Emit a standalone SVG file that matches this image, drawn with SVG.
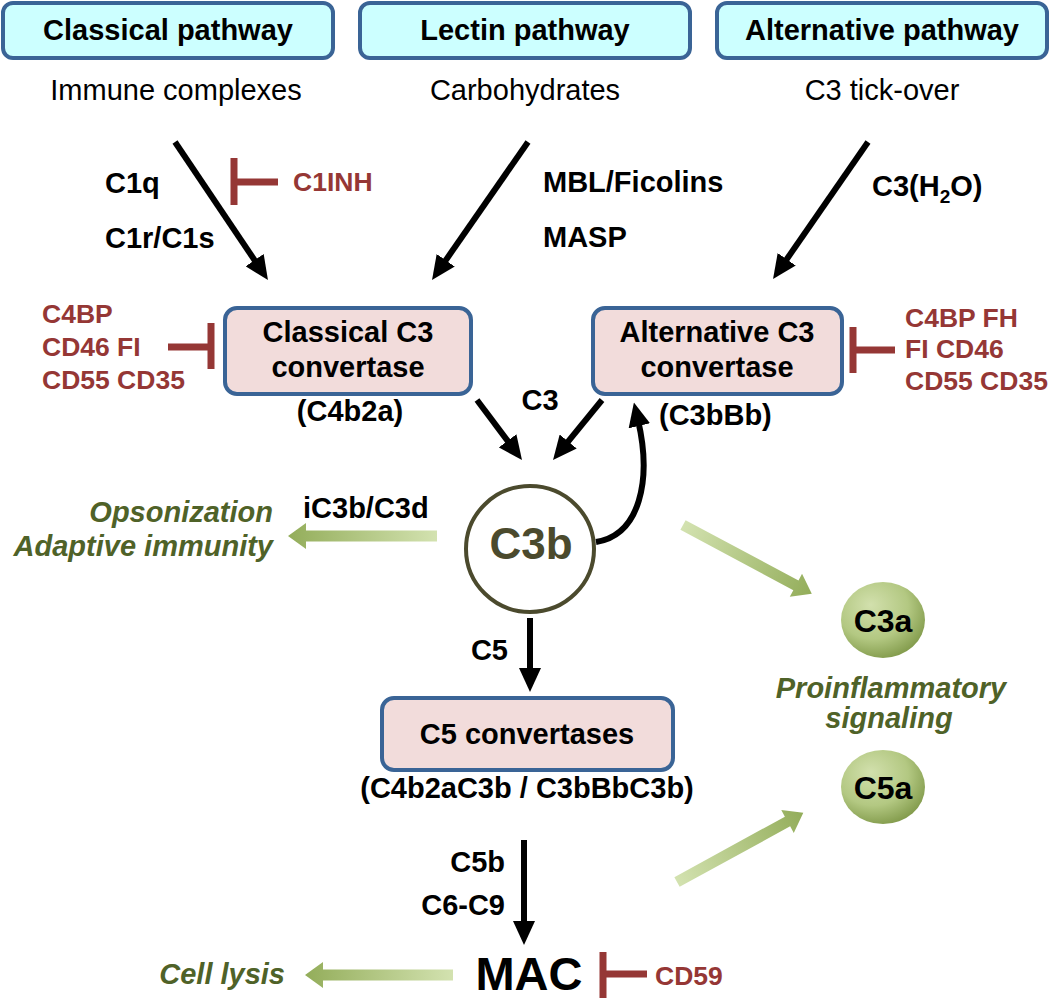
<svg xmlns="http://www.w3.org/2000/svg" width="1050" height="998" viewBox="0 0 1050 998">
<defs>
<style>
text{font-family:"Liberation Sans",Arial,sans-serif;}
.b{font-weight:bold;font-size:29px;fill:#000;}
.r{font-size:29px;fill:#000;}
.red{font-weight:bold;font-size:26.5px;fill:#953735;}
.grn{font-weight:bold;font-style:italic;font-size:29px;fill:#4f6228;}
.top{fill:#ccffff;stroke:#3a6496;stroke-width:4;}
.conv{fill:#f2dcdb;stroke:#3a6496;stroke-width:4;}
.blk{stroke:#000;stroke-width:6;fill:none;marker-end:url(#ah);}
.inh{stroke:#953735;stroke-width:7;fill:none;}
.c{text-anchor:middle;}
.e{text-anchor:end;}
</style>
<marker id="ah" markerUnits="userSpaceOnUse" viewBox="0 0 24 22" markerWidth="24" markerHeight="22" refX="6" refY="11" orient="auto">
<path d="M0,0 L24,11 L0,22 z" fill="#000"/>
</marker>
<linearGradient id="ga" x1="0" y1="0" x2="1" y2="0">
<stop offset="0" stop-color="#d3e2b0"/>
<stop offset="1" stop-color="#93ad5a"/>
</linearGradient>
<radialGradient id="gc" cx="0.4" cy="0.35" r="0.7" fx="0.35" fy="0.3">
<stop offset="0" stop-color="#d2e0ad"/>
<stop offset="0.6" stop-color="#b3c882"/>
<stop offset="1" stop-color="#7f9848"/>
</radialGradient>
</defs>

<g id="classical-pathway">
<rect class="top" x="3" y="3" width="330" height="55" rx="10"/>
<text class="b c" x="168" y="40">Classical pathway</text>
<text class="r c" x="176" y="100">Immune complexes</text>
</g>
<g id="lectin-pathway">
<rect class="top" x="360" y="3" width="330" height="55" rx="10"/>
<text class="b c" x="525" y="40">Lectin pathway</text>
<text class="r c" x="525" y="100">Carbohydrates</text>
</g>
<g id="alternative-pathway">
<rect class="top" x="717" y="3" width="330" height="55" rx="10"/>
<text class="b c" x="882" y="40">Alternative pathway</text>
<text class="r c" x="882" y="100">C3 tick-over</text>
</g>

<g id="classical-c3-convertase">
<rect class="conv" x="225" y="308" width="246" height="86" rx="12"/>
<text class="b c" x="348" y="342">Classical C3</text>
<text class="b c" x="348" y="377">convertase</text>
<text class="b c" x="350" y="421">(C4b2a)</text>
</g>
<g id="alternative-c3-convertase">
<rect class="conv" x="593" y="308" width="249" height="86" rx="12"/>
<text class="b c" x="717" y="342">Alternative C3</text>
<text class="b c" x="717" y="377">convertase</text>
<text class="b" x="659" y="425">(C3bBb)</text>
</g>

<g id="c3b">
<ellipse cx="530" cy="549" rx="64" ry="63" fill="#fff" stroke="#4b4a2d" stroke-width="4"/>
<text class="c" x="531" y="559" style="font-weight:bold;font-size:44px;fill:#4b4a2d">C3b</text>
</g>

<g id="c5-convertases">
<rect class="conv" x="382" y="698" width="291" height="72" rx="12"/>
<text class="b c" x="527" y="744">C5 convertases</text>
<text class="b c" x="527" y="798">(C4b2aC3b / C3bBbC3b)</text>
</g>

<g id="mac">
<text class="c" x="529" y="990" style="font-weight:bold;font-size:47px;fill:#000">MAC</text>
</g>

<g id="c3a">
<ellipse cx="883" cy="620" rx="42" ry="38" fill="url(#gc)"/>
<text class="c" x="883" y="632" style="font-weight:bold;font-size:32px;fill:#000">C3a</text>
</g>
<g id="c5a">
<ellipse cx="883" cy="787" rx="42" ry="37" fill="url(#gc)"/>
<text class="c" x="883" y="799" style="font-weight:bold;font-size:32px;fill:#000">C5a</text>
</g>

<g id="outcomes">
<text class="grn e" x="273" y="522">Opsonization</text>
<text class="grn e" x="273" y="556">Adaptive immunity</text>
<text class="grn c" x="891" y="698">Proinflammatory</text>
<text class="grn c" x="889" y="728">signaling</text>
<text class="grn e" x="285" y="984">Cell lysis</text>
</g>

<g id="inhibitors">
<path class="inh" d="M234,158 V205 M234,182 H278"/>
<text class="red" x="293" y="191">C1INH</text>
<path class="inh" d="M211,323 V369 M211,347 H168"/>
<text class="red" x="42" y="323">C4BP</text>
<text class="red" x="42" y="356">CD46 FI</text>
<text class="red" x="42" y="389">CD55 CD35</text>
<path class="inh" d="M853,327 V373 M853,350 H895"/>
<text class="red" x="905" y="327">C4BP FH</text>
<text class="red" x="905" y="358">FI CD46</text>
<text class="red" x="905" y="390">CD55 CD35</text>
<path class="inh" d="M603,952 V998 M603,974 H647"/>
<text class="red" x="655" y="985">CD59</text>
</g>

<g id="connectors">
<line class="blk" x1="175" y1="142" x2="257.9" y2="265.1"/>
<line class="blk" x1="528" y1="142" x2="442.3" y2="265.2"/>
<line class="blk" x1="868" y1="142" x2="783.3" y2="264.2"/>
<line class="blk" x1="477" y1="400" x2="511.2" y2="445.6"/>
<line class="blk" x1="602" y1="400" x2="564.4" y2="446.1"/>
<path class="blk" d="M596,542 C640,535 652,480 638,420"/>
<line class="blk" x1="530" y1="618" x2="530" y2="674"/>
<line class="blk" x1="524" y1="840" x2="524" y2="927"/>
<g fill="url(#ga)">
<polygon transform="translate(437,536) rotate(180)" points="0,-5.5 131,-5.5 131,-13 149,0 131,13 131,5.5 0,5.5"/>
<polygon transform="translate(453,975) rotate(180)" points="0,-5.5 130,-5.5 130,-13 148,0 130,13 130,5.5 0,5.5"/>
<polygon transform="translate(683,525) rotate(28.1)" points="0,-5.5 128,-5.5 128,-13 146,0 128,13 128,5.5 0,5.5"/>
<polygon transform="translate(677,882) rotate(-28.7)" points="0,-5.5 126,-5.5 126,-13 144,0 126,13 126,5.5 0,5.5"/>
</g>
</g>

<g id="labels">
<text class="b" x="105" y="193">C1q</text>
<text class="b" x="105" y="248">C1r/C1s</text>
<text class="b" x="543" y="192">MBL/Ficolins</text>
<text class="b" x="543" y="247">MASP</text>
<text class="b" x="872" y="196">C3(H<tspan dy="7" style="font-size:19px">2</tspan><tspan dy="-7">O)</tspan></text>
<text class="b c" x="540" y="410">C3</text>
<text class="b" x="303" y="518">iC3b/C3d</text>
<text class="b e" x="508" y="660">C5</text>
<text class="b e" x="505" y="872">C5b</text>
<text class="b e" x="505" y="915">C6-C9</text>
</g>
</svg>
